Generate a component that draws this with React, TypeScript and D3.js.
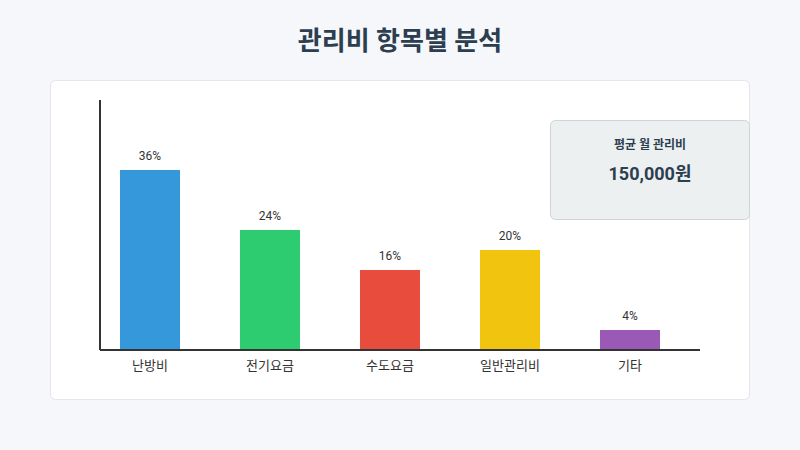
import { useEffect, useRef } from 'react'
import * as d3 from 'd3'

const categories = ['난방비', '전기요금', '수도요금', '일반관리비', '기타']
const shares = [36, 24, 16, 20, 4]
const colors = ['#3498db', '#2ecc71', '#e74c3c', '#f1c40f', '#9b59b6']
const summaryLabel = '평균 월 관리비'
const summaryValue = '150,000원'

const font = "Roboto, 'Noto Sans CJK KR', sans-serif"

export default function App() {
  const svgRef = useRef<SVGSVGElement>(null)

  useEffect(() => {
    if (!svgRef.current) return
    const svg = d3.select(svgRef.current)
    svg.selectAll('*').remove()

    const width = 800
    const height = 450
    const margin = { top: 100, right: 100, bottom: 100, left: 100 }
    const innerWidth = width - margin.left - margin.right
    const innerHeight = height - margin.top - margin.bottom

    svg.append('rect')
      .attr('width', width)
      .attr('height', height)
      .attr('fill', '#f5f7fa')

    svg.append('text')
      .attr('x', width / 2)
      .attr('y', 50)
      .attr('text-anchor', 'middle')
      .attr('font-family', font)
      .attr('font-size', 26)
      .attr('font-weight', 'bold')
      .attr('fill', '#2c3e50')
      .text('관리비 항목별 분석')

    svg.append('rect')
      .attr('x', 50.5)
      .attr('y', 80.5)
      .attr('width', 699)
      .attr('height', 319)
      .attr('rx', 5)
      .attr('fill', '#ffffff')
      .attr('stroke', '#e3e6ea')

    // bars sit 20px in from the axis, one every 120px
    const xScale = d3.scaleBand()
      .domain(categories)
      .range([20, 560])
      .paddingInner(0.5)
      .paddingOuter(0)

    const yScale = d3.scaleLinear()
      .domain([0, 50])
      .range([innerHeight, 0])

    const g = svg.append('g')
      .attr('transform', `translate(${margin.left},${margin.top})`)

    const data = categories.map((c, i) => ({ c, v: shares[i], color: colors[i] }))

    g.selectAll('.bar')
      .data(data)
      .enter().append('rect')
      .attr('class', 'bar')
      .attr('x', d => xScale(d.c)!)
      .attr('y', d => yScale(d.v))
      .attr('width', xScale.bandwidth())
      .attr('height', d => innerHeight - yScale(d.v))
      .attr('fill', d => d.color)

    g.selectAll('.pct')
      .data(data)
      .enter().append('text')
      .attr('class', 'pct')
      .attr('x', d => xScale(d.c)! + xScale.bandwidth() / 2)
      .attr('y', d => yScale(d.v) - 10)
      .attr('text-anchor', 'middle')
      .attr('font-family', font)
      .attr('font-size', 12)
      .attr('fill', '#333')
      .text(d => `${d.v}%`)

    g.selectAll('.cat')
      .data(data)
      .enter().append('text')
      .attr('class', 'cat')
      .attr('x', d => xScale(d.c)! + xScale.bandwidth() / 2)
      .attr('y', innerHeight + 20)
      .attr('text-anchor', 'middle')
      .attr('font-family', font)
      .attr('font-size', 13)
      .attr('fill', '#333')
      .text(d => d.c)

    g.append('line')
      .attr('x1', 0)
      .attr('x2', innerWidth)
      .attr('y1', innerHeight)
      .attr('y2', innerHeight)
      .attr('stroke', '#333')
      .attr('stroke-width', 2)

    g.append('line')
      .attr('x1', 0)
      .attr('x2', 0)
      .attr('y1', 0)
      .attr('y2', innerHeight)
      .attr('stroke', '#333')
      .attr('stroke-width', 2)

    const box = svg.append('g').attr('transform', 'translate(550,120)')
    box.append('rect')
      .attr('x', 0.5)
      .attr('y', 0.5)
      .attr('width', 199)
      .attr('height', 99)
      .attr('rx', 5)
      .attr('fill', '#ecf0f1')
      .attr('stroke', '#cfd4d6')
    box.append('text')
      .attr('x', 100)
      .attr('y', 29)
      .attr('text-anchor', 'middle')
      .attr('font-family', font)
      .attr('font-size', 12)
      .attr('font-weight', 'bold')
      .attr('fill', '#2c3e50')
      .text(summaryLabel)
    box.append('text')
      .attr('x', 100)
      .attr('y', 60)
      .attr('text-anchor', 'middle')
      .attr('font-family', font)
      .attr('font-size', 18)
      .attr('font-weight', 'bold')
      .attr('fill', '#2c3e50')
      .text(summaryValue)
  }, [])

  return (
    <svg
      ref={svgRef}
      width={800}
      height={450}
      style={{ position: 'absolute', left: 0, top: 0 }}
    />
  )
}
